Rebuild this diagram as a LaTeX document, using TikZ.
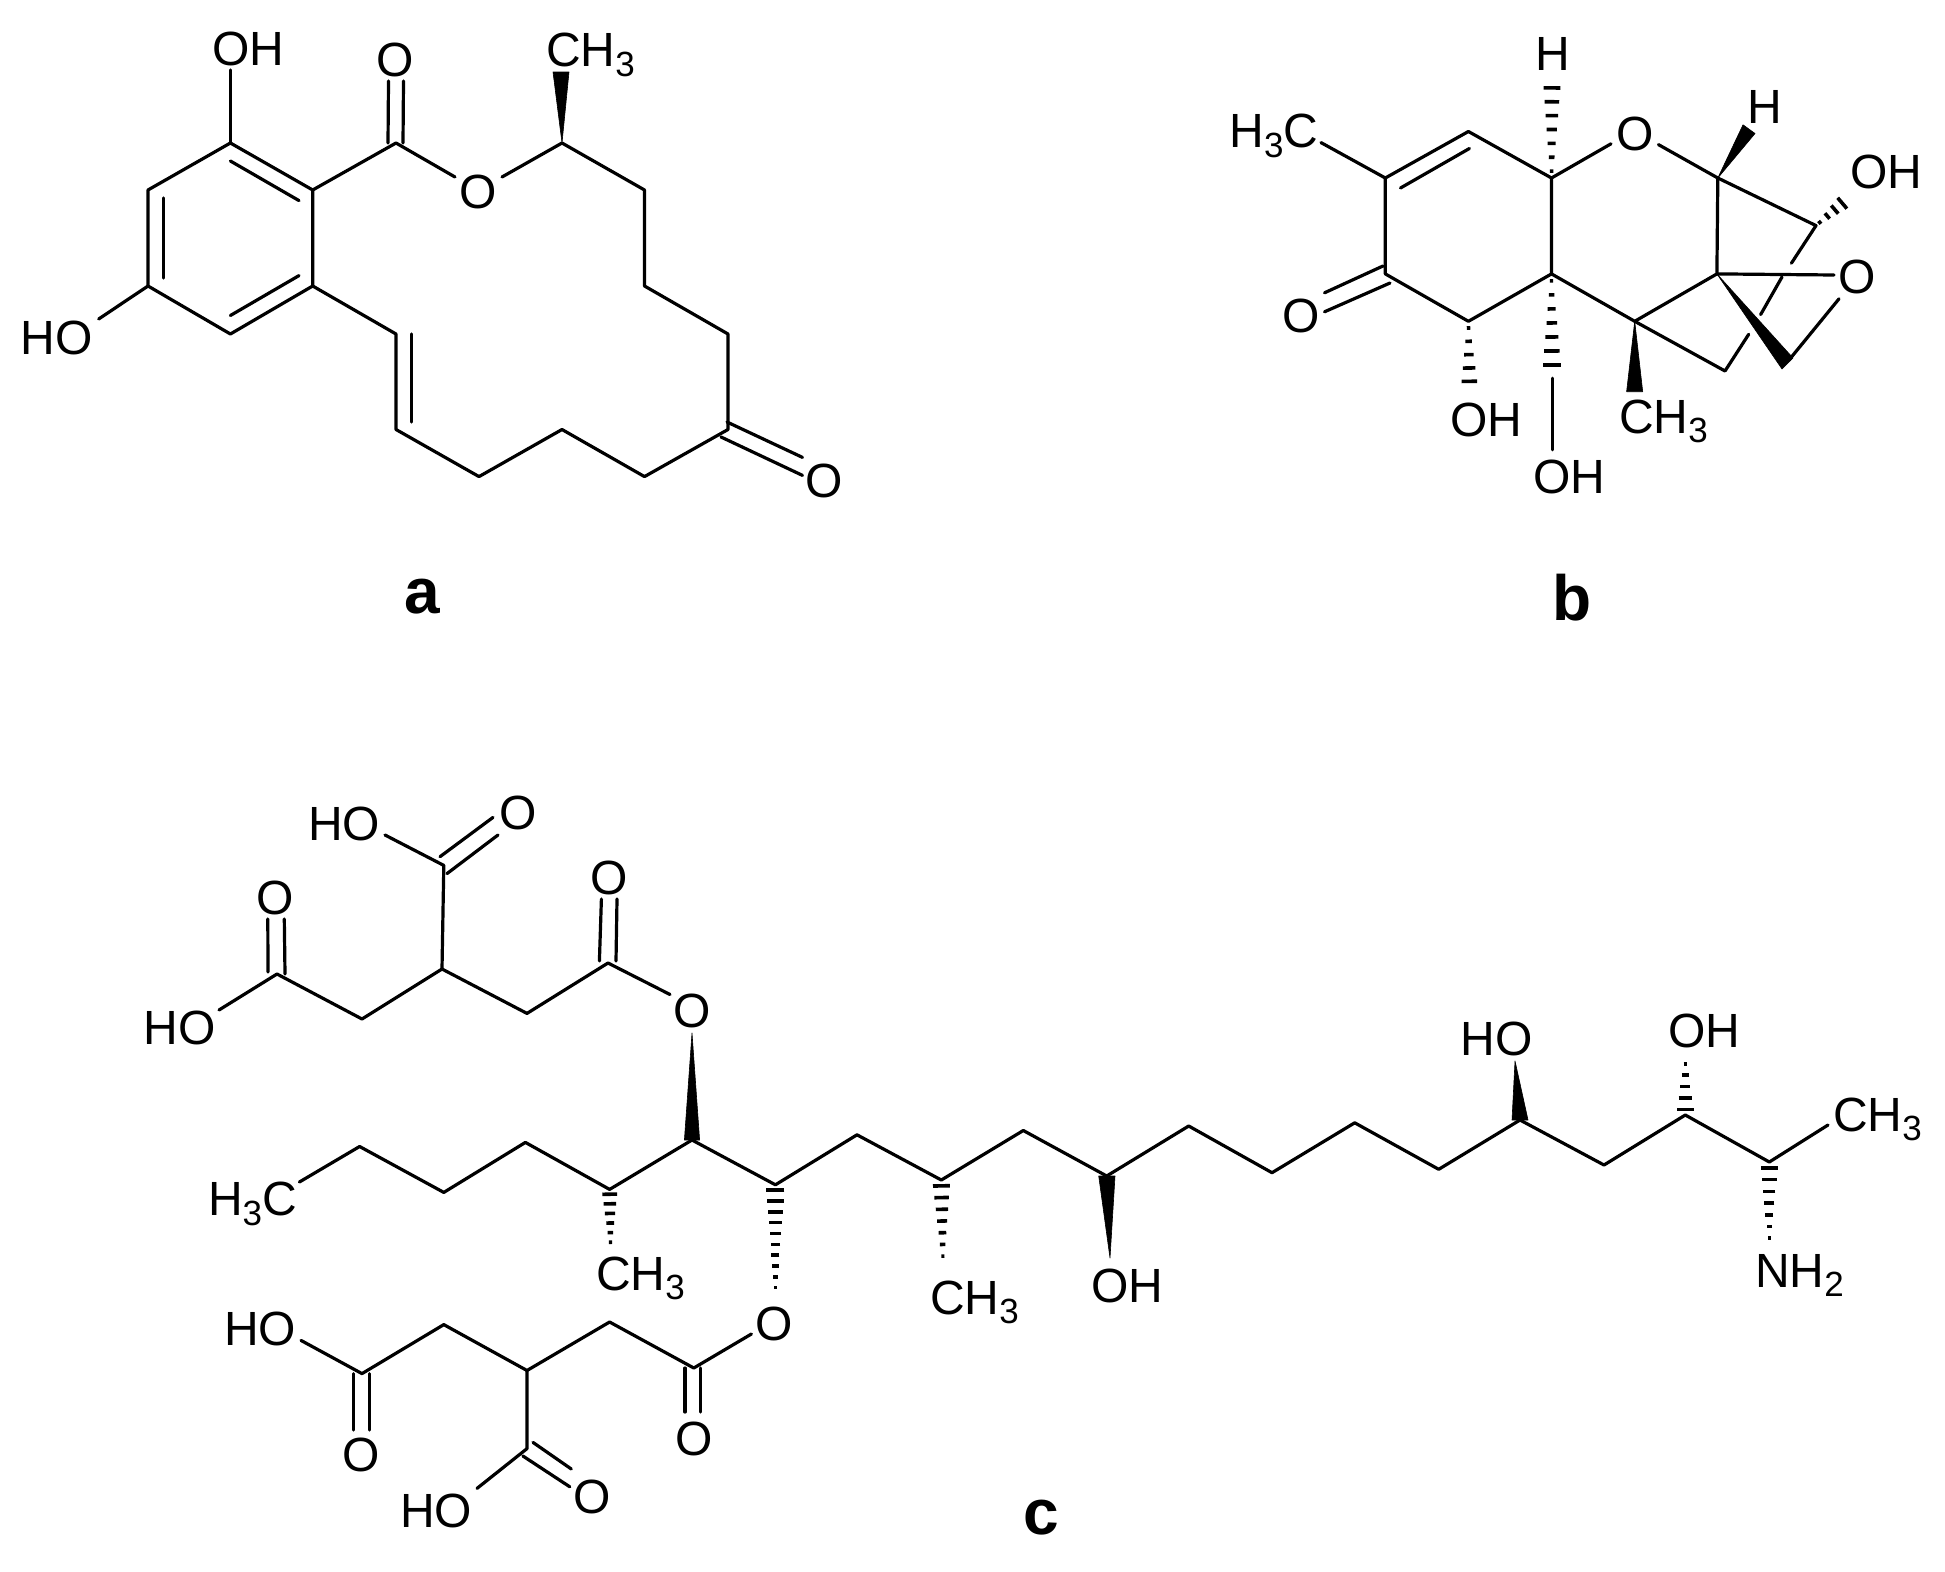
\documentclass[tikz,border=0pt]{standalone}
\usepackage{fontspec}
\setmainfont{Liberation Sans}
\usetikzlibrary{calc}
\tikzset{
  bond/.style={line width=3.2pt,line cap=round,line join=round,black},
  thinbond/.style={line width=2.6pt,line cap=round,black},
  hashline/.style={line width=3.6pt,line cap=butt,black},
  wedgefill/.style={fill=black,draw=black,line width=0.6pt,line join=round},
  atom/.style={inner sep=0pt,outer sep=0pt,font=\fontsize{48}{56}\selectfont},
  atombase/.style={atom,anchor=base west},
  panel/.style={inner sep=0pt,outer sep=0pt,font=\fontsize{64}{70}\selectfont\bfseries}
}
\newcommand{\sub}[1]{\raisebox{-0.2em}{\fontsize{35}{35}\selectfont #1}}
% hashed bond: from, to, half width at from, half width at to, number of strokes
\newcommand{\hashbond}[5]{%
  \foreach \hI in {1,...,#5}{%
    \pgfmathsetmacro\hT{(\hI-0.5)/#5}%
    \pgfmathsetmacro\hW{#3+(#4-#3)*\hT}%
    \draw[hashline] ($(#1)!\hT!(#2)!\hW pt!90:(#2)$) -- ($(#1)!\hT!(#2)!\hW pt!-90:(#2)$);
  }}
\begin{document}
\begin{tikzpicture}[x=1pt,y=-1pt]
\fill[white] (0,0) rectangle (1945,1571);
\useasboundingbox (0,0) rectangle (1945,1571);

%%%%%%%%%%%%%%%% structure a
\foreach \n/\x/\y in {
 aA/230.4/143, aB/312.7/190, aC/312.7/286, aD/230.4/334, aE/148/286, aF/148/190,
 aOHe/230.4/70, aHOe/98.7/319,
 aG/396/143, aH/396/334, aI/396/429.5, aJ/479/476.6, aK/562/429.5, aL/644.5/476.6,
 aM/728/429.5, aN/728/334, aP/644.5/286, aQ/644.5/190, aR/562/143,
 aOl/455/177, aOr/502/177,
 aiA/230.4/161, aiB/299/200.6, aiC/299/275.6, aiD/230.4/315.5, aiE/163.5/278, aiF/163.5/198,
 aiH/411.4/334, aiI/411.4/422,
 aCOa/388/143, aCOb/388.5/81, aCOc/403/143, aCOd/403.5/81,
 aKa/727/422, aKb/802.5/457.4, aKc/721/437, aKd/802.5/475.4,
 aWa/553/72, aWb/569/72}
 {\coordinate (\n) at (\x,\y);}
\draw[bond] (aA)--(aB)--(aC)--(aD)--(aE)--(aF)--cycle;
\draw[bond] (aiA)--(aiB);
\draw[bond] (aiC)--(aiD);
\draw[bond] (aiE)--(aiF);
\draw[bond] (aA)--(aOHe);
\draw[bond] (aE)--(aHOe);
\draw[bond] (aB)--(aG)--(aOl);
\draw[bond] (aOr)--(aR)--(aQ)--(aP)--(aN)--(aM)--(aL)--(aK)--(aJ)--(aI)--(aH)--(aC);
\draw[bond] (aiH)--(aiI);
\draw[bond] (aCOa)--(aCOb);
\draw[bond] (aCOc)--(aCOd);
\draw[bond] (aKa)--(aKb);
\draw[bond] (aKc)--(aKd);
\fill[wedgefill] (aR)--(aWa)--(aWb)--cycle;
\node[atom] (aOH) at (248,49) {OH};
\node[atom] (aHO) at (56.5,338) {HO};
\node[atom] (aO1) at (395,60) {O};
\node[atom] (aO2) at (478,192) {O};
\node[atom] (aO3) at (824.5,481) {O};
\node[atombase] (aMe) at (546,66.7) {CH\sub{3}};
\node[panel] (aLab) at (422,597) {a};

%%%%%%%%%%%%%%%% structure b
\foreach \n/\x/\y in {
 bA/1385.3/178, bB/1468.4/131.5, bC/1551.5/178, bD/1551.5/273.9, bE/1468.4/321.3, bF/1385.3/273.9,
 bMe/1321/142.6, biA/1400.5/188, biB/1469.4/148.5,
 bOl/1611/143.8, bOr/1658.4/144.6,
 bG/1717.8/178, bH/1716.9/273.9, bI/1634.7/321.3, bJ/1816/225.6, bK/1725/371,
 bXa/1791.4/263.2, bXb/1782/277, bXc/1760.6/314.6, bXd/1748.7/334.3,
 bEa/1834/275, bEb/1839/298.8, bEc/1789/360,
 bWa/1782/369, bWb/1793/358,
 bHa/1552/81, bHb/1743/124.8, bHc/1755/133.5,
 bOHr/1846/200,
 bCa/1383/266, bCb/1324.5/292.8, bCc/1390/283, bCd/1324.5/311.8,
 bOa/1469.4/388, bOb/1552/372, bOc/1552.5/378, bOd/1552.5/450,
 bMa/1626.6/391.7, bMb/1642.7/391.7}
 {\coordinate (\n) at (\x,\y);}
\draw[bond] (bA)--(bB)--(bC)--(bD)--(bE)--(bF)--cycle;
\draw[bond] (biA)--(biB);
\draw[bond] (bMe)--(bA);
\draw[bond] (bC)--(bOl);
\draw[bond] (bOr)--(bG)--(bH)--(bI)--(bD);
\draw[bond] (bG)--(bJ)--(bXa);
\draw[bond] (bXb)--(bXc);
\draw[bond] (bXd)--(bK)--(bI);
\draw[bond] (bH)--(bEa);
\draw[bond] (bEb)--(bEc);
\draw[bond] (bCa)--(bCb);
\draw[bond] (bCc)--(bCd);
\draw[thinbond] (bOc)--(bOd);
\fill[wedgefill] (bH)--(bWa)--(bWb)--cycle;
\fill[wedgefill] (bG)--(bHb)--(bHc)--cycle;
\fill[wedgefill] (bI)--(bMa)--(bMb)--cycle;
\hashbond{bC}{bHa}{1.2}{9}{7}
\hashbond{bJ}{bOHr}{1}{8}{4}
\hashbond{bE}{bOa}{1}{8.5}{5}
\hashbond{bD}{bOb}{1}{9.5}{7}
\node[atom] (bHt) at (1552.5,53.6) {H};
\node[atom] (bHr) at (1764.4,107) {H};
\node[atom] (bOring) at (1634.7,133.5) {O};
\node[atom] (bOep) at (1857,277) {O};
\node[atom] (bOket) at (1300.7,315.8) {O};
\node[atom] (bOH1) at (1886.4,172) {OH};
\node[atom] (bOH2) at (1486.5,420) {OH};
\node[atom] (bOH3) at (1569.6,476.7) {OH};
\node[atombase] (bH3C) at (1229.5,147.5) {H\sub{3}C};
\node[atombase] (bCH3) at (1619,433) {CH\sub{3}};
\node[panel] (bLab) at (1572,598) {b};

%%%%%%%%%%%%%%%% structure c
\foreach \n/\x/\y in {
 uA/277/974, uAe/219/1010, uAa/268/972, uAb/267.8/919, uAc/285/974, uAd/284.3/919,
 uB/362/1019, uC/442/969, uD/443.8/865.4, uDe/385/835,
 uDa/440/856.7, uDb/493/817.4, uDc/447/873.6, uDd/498/835,
 uE/527/1013.4, uF/608/963, uFa/599.4/961, uFb/601.4/899, uFc/616/961, uFd/617/899,
 uFe/670/994.5, uWt/692/1033, uWa/684.4/1140, uWb/699.6/1140,
 mS/299.4/1182, mA/359.6/1146.5, mB/443.8/1192.4, mC/525.4/1142.4, mD/609.6/1189.4,
 mE/692/1140, mF/775.4/1184.8, mG/857/1134.8, nA/941.3/1180, nB/1023.3/1130.5,
 nC/1106.7/1176, nD/1188.7/1126, nE/1272/1172.7, nF/1354.7/1122.8, nG/1438.7/1169.3,
 nH/1520/1120, nI/1604/1165, nJ/1685.3/1115, nK/1769.3/1162, nL/1828/1125,
 nKe/1769.3/1244, nJe/1685.3/1058, nAe/943/1262, mDe/610.6/1247, mFe/775.4/1293,
 nCa/1098.7/1176, nCb/1115/1176, nCt/1110/1258,
 nHa/1512/1120, nHb/1528/1120, nHt/1515/1061,
 lOr/751.4/1334, lA/693.8/1368, lAa/685/1368, lAb/685/1412, lAc/700.4/1368, lAd/700.4/1412,
 lB/609.6/1322, lC/527/1370.5, lD/443.8/1324.6, lE/362/1373.6, lEe/301/1340.4,
 lEa/353.5/1373.6, lEb/353.5/1430, lEc/369.8/1373.6, lEd/369.8/1430,
 lF/527/1448.6, lFe/477/1488.4, lFa/533/1442.4, lFb/571.3/1469, lFc/522.9/1456, lFd/569.8/1486.8}
 {\coordinate (\n) at (\x,\y);}
\draw[bond] (uAe)--(uA)--(uB)--(uC)--(uD)--(uDe);
\draw[bond] (uC)--(uE)--(uF)--(uFe);
\draw[bond] (uAa)--(uAb);
\draw[bond] (uAc)--(uAd);
\draw[bond] (uDa)--(uDb);
\draw[bond] (uDc)--(uDd);
\draw[bond] (uFa)--(uFb);
\draw[bond] (uFc)--(uFd);
\fill[wedgefill] (uWt)--(uWa)--(uWb)--cycle;
\draw[bond] (mS)--(mA)--(mB)--(mC)--(mD)--(mE)--(mF)--(mG)--(nA)--(nB)--(nC)--(nD)--(nE)--(nF)--(nG)--(nH)--(nI)--(nJ)--(nK)--(nL);
\fill[wedgefill] (nCa)--(nCt)--(nCb)--cycle;
\fill[wedgefill] (nHt)--(nHa)--(nHb)--cycle;
\hashbond{mD}{mDe}{8}{1}{6}
\hashbond{mF}{mFe}{9.5}{1}{10}
\hashbond{nA}{nAe}{9}{1}{7}
\hashbond{nJ}{nJe}{9}{1}{5}
\hashbond{nK}{nKe}{9}{1}{7}
\draw[bond] (lOr)--(lA)--(lB)--(lC)--(lD)--(lE)--(lEe);
\draw[bond] (lC)--(lF)--(lFe);
\draw[bond] (lAa)--(lAb);
\draw[bond] (lAc)--(lAd);
\draw[bond] (lEa)--(lEb);
\draw[bond] (lEc)--(lEd);
\draw[bond] (lFa)--(lFb);
\draw[bond] (lFc)--(lFd);
\node[atom] (cO1) at (275.4,897.6) {O};
\node[atom] (cHO1) at (179.5,1027.6) {HO};
\node[atom] (cO2) at (517.8,813.4) {O};
\node[atom] (cHO2) at (344,823.6) {HO};
\node[atom] (cO3) at (609.6,878) {O};
\node[atom] (cO4) at (692,1011) {O};
\node[atom] (cO5) at (774,1323.6) {O};
\node[atom] (cO6) at (693.8,1439) {O};
\node[atom] (cO7) at (361,1454.7) {O};
\node[atom] (cO8) at (591.7,1497) {O};
\node[atom] (cHO3) at (260,1328.7) {HO};
\node[atom] (cHO4) at (436,1511) {HO};
\node[atom] (cOHa) at (1127.5,1285.6) {OH};
\node[atom] (cHOb) at (1496.5,1039) {HO};
\node[atom] (cOHc) at (1704.5,1031) {OH};
\node[atombase] (cH3C) at (208,1215.4) {H\sub{3}C};
\node[atombase] (cMe1) at (596,1290) {CH\sub{3}};
\node[atombase] (cMe2) at (930,1314) {CH\sub{3}};
\node[atombase] (cMe3) at (1833,1131) {CH\sub{3}};
\node[atombase] (cNH2) at (1755,1287) {NH\sub{2}};
\node[panel] (cLab) at (1041,1518) {c};
\end{tikzpicture}
\end{document}
